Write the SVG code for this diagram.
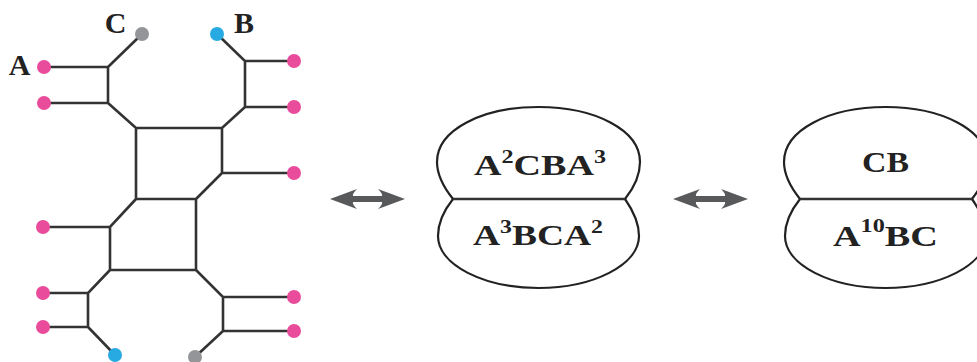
<svg xmlns="http://www.w3.org/2000/svg" width="977" height="362" viewBox="0 0 977 362">
<defs>
<style>
.e{stroke:#333;stroke-width:2.6;fill:none;stroke-linecap:round}
.p{fill:#E84C9A}
.b{fill:#27AAE1}
.g{fill:#939598}
.lbl{font-family:"Liberation Serif",serif;font-weight:bold;font-size:30px;fill:#222}
.blob{stroke:#222;stroke-width:2.2;fill:#fff}
.mid{stroke:#333;stroke-width:2.6}
.sup{font-size:19px}
.arr{fill:#58595B}
</style>
<path id="arrow" class="arr" d="M330,199 L357,189 Q352,194 353,196 L382,196 Q383,194 378,189 L405,199 L378,209 Q383,204 382,202 L353,202 Q352,204 357,209 Z"/>
<g id="blobshape">
<path class="blob" d="M453,199 C445,189 437,176 437,162 C437,130 482,107 538.5,107 C595,107 640,130 640,162 C640,176 633,189 625,199 Z"/>
<path class="blob" d="M453,199 C445,209 438,222 438,236 C438,265 484,288 538.5,288 C593,288 639,265 639,236 C639,222 632,209 625,199 Z"/>
<line class="mid" x1="453" y1="199" x2="625" y2="199"/>
</g>
</defs>
<g id="connectors">
<path class="e" d="M44,67 H108 V103 H44 M108,67 L142,34 M108,103 L136,128 H222 L245,107 M217,34 L245,61 V107 M245,61 H294 M245,107 H294 M222,128 V173 H294 M222,173 L196,199 M136,128 V199 H196 M43,227 H110 L136,199 M110,227 V270 H196 V199 M110,270 L88,293 V327 M43,293 H88 M43,327 H88 M88,327 L115,355 M196,270 L223,297 V331 M223,297 H294 M223,331 H294 M223,331 L195,357"/>
<use href="#arrow"/>
<use href="#arrow" transform="translate(343,0)"/>
</g>
<g id="leafA"><circle class="p" cx="44" cy="67" r="7"/><text class="lbl" x="19.5" y="75" text-anchor="middle">A</text></g>
<g id="leaf2"><circle class="p" cx="44" cy="103" r="7"/></g>
<g id="leafC"><circle class="g" cx="142" cy="34" r="7"/><text class="lbl" x="115.5" y="33" text-anchor="middle">C</text></g>
<g id="leafB"><circle class="b" cx="217" cy="34" r="7"/><text class="lbl" x="244" y="33" text-anchor="middle">B</text></g>
<g id="leaf5"><circle class="p" cx="294" cy="61" r="7"/></g>
<g id="leaf6"><circle class="p" cx="294" cy="107" r="7"/></g>
<g id="leaf7"><circle class="p" cx="294" cy="173" r="7"/></g>
<g id="leaf8"><circle class="p" cx="43" cy="227" r="7"/></g>
<g id="leaf9"><circle class="p" cx="43" cy="293" r="7"/></g>
<g id="leaf10"><circle class="p" cx="43" cy="327" r="7"/></g>
<g id="leaf11"><circle class="b" cx="115" cy="355" r="7"/></g>
<g id="leaf12"><circle class="g" cx="195" cy="357" r="7"/></g>
<g id="leaf13"><circle class="p" cx="294" cy="297" r="7"/></g>
<g id="leaf14"><circle class="p" cx="294" cy="331" r="7"/></g>
<g id="blob1">
<use href="#blobshape"/>
<text class="lbl" x="474" y="175" textLength="132" lengthAdjust="spacingAndGlyphs">A<tspan class="sup" dy="-12">2</tspan><tspan dy="12">CBA</tspan><tspan class="sup" dy="-12">3</tspan></text>
<text class="lbl" x="473" y="245" textLength="130" lengthAdjust="spacingAndGlyphs">A<tspan class="sup" dy="-12">3</tspan><tspan dy="12">BCA</tspan><tspan class="sup" dy="-12">2</tspan></text>
</g>
<g id="blob2">
<use href="#blobshape" transform="translate(347,0)"/>
<text class="lbl" x="862" y="172" textLength="47" lengthAdjust="spacingAndGlyphs">CB</text>
<text class="lbl" x="833" y="246" textLength="105" lengthAdjust="spacingAndGlyphs">A<tspan class="sup" dy="-14">10</tspan><tspan dy="14">BC</tspan></text>
</g>
</svg>
